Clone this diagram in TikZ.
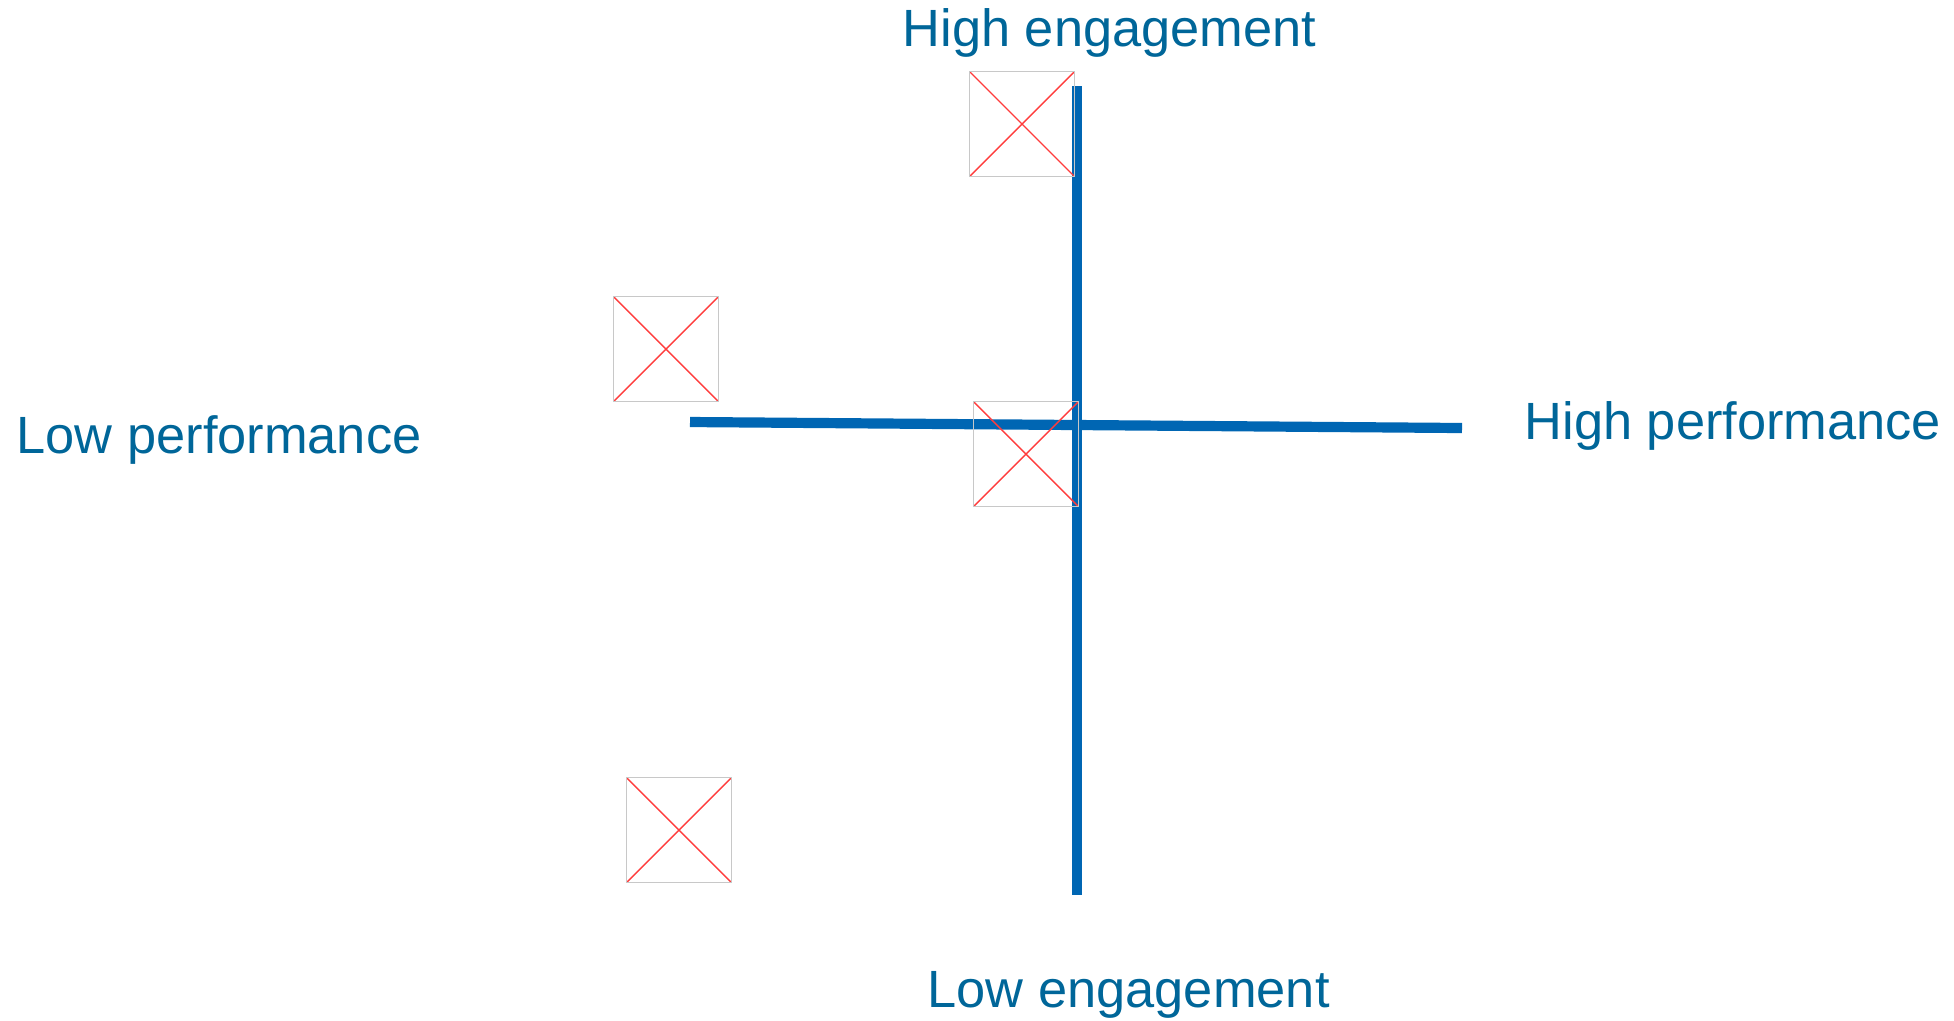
\documentclass[tikz,border=0pt]{standalone}
\usepackage{fontspec}
\setmainfont{Liberation Sans}
\usetikzlibrary{positioning}

\definecolor{axisblue}{RGB}{0,102,179}
\definecolor{labelblue}{RGB}{0,102,153}
\definecolor{framegrey}{RGB}{200,200,200}
\definecolor{crossred}{RGB}{255,60,60}

\tikzset{
  axis/.style={draw=axisblue,line width=2.9pt},
  label/.style={text=labelblue,inner sep=0pt,anchor=base west,font=\fontsize{14.9}{18}\selectfont},
  missing/.style={draw=framegrey,line width=0.4pt,minimum width=1.05cm,minimum height=1.05cm,
    inner sep=0pt,
    path picture={
      \draw[crossred,line width=0.4pt] (path picture bounding box.north west) -- (path picture bounding box.south east);
      \draw[crossred,line width=0.4pt] (path picture bounding box.south west) -- (path picture bounding box.north east);
    }}
}

\begin{document}
\begin{tikzpicture}[x=0.01cm,y=-0.01cm]
                \useasboundingbox (0,0) rectangle (1954,1020);
                % axis ends
                \coordinate (top) at (1077,86);
                \coordinate (bottom) at (1077,895);
                \coordinate (left) at (690,422);
                \coordinate (right) at (1462,428);
                \draw[axis] (top) -- (bottom);
                \draw[axis] (left) -- (right);
                % image placeholders
                \node[missing] (img1) at (1022,124) {};
                \node[missing] (img2) at (666,349) {};
                \node[missing] (img3) at (1026,454) {};
                \node[missing] (img4) at (679,830) {};
                % axis labels
                \node[label] (higheng) at (902,46) {High engagement};
                \node[label] (loweng) at (927,1007) {Low engagement};
                \node[label] (lowperf) at (16,453) {Low performance};
                \node[label] (highperf) at (1524,439) {High performance};
            \end{tikzpicture}
\end{document}
